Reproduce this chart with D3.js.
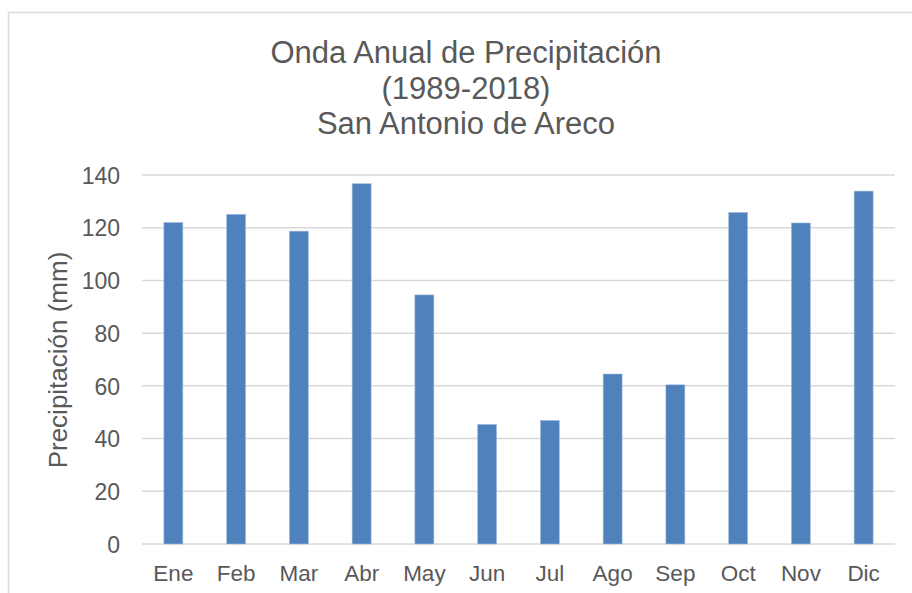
<!DOCTYPE html>
<html>
<head>
<meta charset="utf-8">
<script src="https://cdn.jsdelivr.net/npm/d3@7"></script>
<style>
  body { margin: 0; background: #fff; }
  text { font-family: "Liberation Sans", Arial, sans-serif; fill: #595959; }
</style>
</head>
<body>
<div id="svg-container"></div>
<script>
var w = 912;
var h = 593;

// data
var months = ["Ene", "Feb", "Mar", "Abr", "May", "Jun", "Jul", "Ago", "Sep", "Oct", "Nov", "Dic"];
var precip = [122.0, 125.1, 118.7, 136.7, 94.5, 45.4, 46.9, 64.5, 60.4, 125.8, 121.8, 133.9];
var yTicks = [0, 20, 40, 60, 80, 100, 120, 140];
var titleLines = ["Onda Anual de Precipitación", "(1989-2018)", "San Antonio de Areco"];
var yTitle = "Precipitación (mm)";

var plotLeft = 142, plotRight = 895;
var plotTop = 175, plotBottom = 544;

var svg = d3.select("#svg-container")
    .append("svg")
    .attr("width", w)
    .attr("height", h);

// chart frame (runs off the right / bottom of the picture)
svg.append("rect")
    .attr("x", 8.5)
    .attr("y", 12.5)
    .attr("width", 1000)
    .attr("height", 1000)
    .attr("fill", "none")
    .attr("stroke", "#d9d9d9")
    .attr("stroke-width", 1.5);

var xScale = d3.scaleBand()
    .domain(months)
    .range([plotLeft, plotRight])
    .paddingInner(0.697)
    .paddingOuter(0.3485);

var yScale = d3.scaleLinear()
    .domain([0, 140])
    .range([plotBottom, plotTop]);

// gridlines
svg.append("g")
    .attr("class", "grid")
    .selectAll("line")
    .data(yTicks)
    .enter().append("line")
    .attr("x1", plotLeft)
    .attr("x2", plotRight)
    .attr("y1", function(d) { return yScale(d); })
    .attr("y2", function(d) { return yScale(d); })
    .attr("stroke", "#d9d9d9")
    .attr("stroke-width", 1.5);

// bars
svg.append("g")
    .attr("class", "bars")
    .selectAll("rect")
    .data(precip)
    .enter().append("rect")
    .attr("x", function(d, i) { return xScale(months[i]); })
    .attr("width", xScale.bandwidth())
    .attr("y", function(d) { return yScale(d); })
    .attr("height", function(d) { return plotBottom - yScale(d); })
    .attr("fill", "#4f81bd")
    .attr("stroke", "#a9c0e0")
    .attr("stroke-width", 0.6);

// y axis labels
var yAxis = svg.append("g")
    .attr("class", "y-axis")
    .attr("transform", "translate(" + plotLeft + ",0)")
    .call(d3.axisLeft(yScale).tickValues(yTicks).tickSize(0).tickPadding(22));
yAxis.select(".domain").remove();
yAxis.selectAll("text")
    .style("font-size", "23px")
    .attr("fill", "#595959")
    .attr("dy", "0.36em");

// x axis labels
var xAxis = svg.append("g")
    .attr("class", "x-axis")
    .attr("transform", "translate(0," + plotBottom + ")")
    .call(d3.axisBottom(xScale).tickSize(0).tickPadding(21));
xAxis.select(".domain").remove();
xAxis.selectAll("text")
    .style("font-size", "22.5px")
    .attr("fill", "#595959")
    .attr("dy", "0.71em");

// title
svg.append("g")
    .attr("class", "title")
    .selectAll("text")
    .data(titleLines)
    .enter().append("text")
    .attr("x", 466)
    .attr("y", function(d, i) { return 63 + i * 35.5; })
    .attr("text-anchor", "middle")
    .style("font-size", "31px")
    .text(function(d) { return d; });

// y axis title
svg.append("text")
    .attr("transform", "translate(67,360) rotate(-90)")
    .attr("text-anchor", "middle")
    .style("font-size", "26px")
    .text(yTitle);
</script>
</body>
</html>
